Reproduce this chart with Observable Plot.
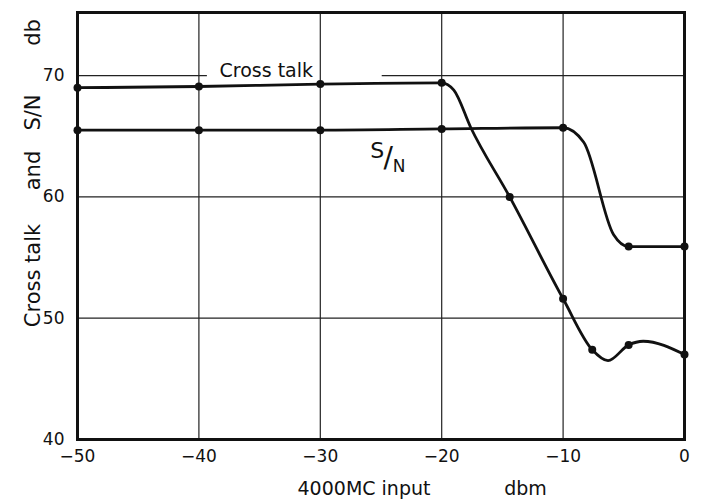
<!DOCTYPE html>
<html>
<head>
<meta charset="utf-8">
<script src="https://cdn.jsdelivr.net/npm/d3@7"></script>
<script src="https://cdn.jsdelivr.net/npm/@observablehq/plot@0.6"></script>
<style>
  html, body { margin: 0; padding: 0; background: #fff; }
  svg { display: block; }
</style>
</head>
<body>
<div id="chart"></div>
<script>
// Cross talk: measured points (dots) and traced curve
const crossDotX = [-50, -40, -30, -20, -14.4, -10, -7.6, -4.6, 0];
const crossDotY = [69.0, 69.1, 69.3, 69.4, 60.0, 51.6, 47.4, 47.8, 47.0];
const crossLineX = [-50, -40, -30, -20, -19.0, -17.6, -14.4, -10, -7.6, -6.3, -4.6, -3.4, 0];
const crossLineY = [69.0, 69.1, 69.3, 69.4, 68.8, 65.7, 60.0, 51.6, 47.4, 46.5, 47.8, 48.1, 47.0];

// S/N: measured points and traced curve
const snDotX = [-50, -40, -30, -20, -10, -4.6, 0];
const snDotY = [65.5, 65.5, 65.5, 65.6, 65.7, 55.9, 55.9];
const snLineX = [-50, -40, -30, -20, -10, -8.3, -5.85, -4.6, 0];
const snLineY = [65.5, 65.5, 65.5, 65.6, 65.7, 64.5, 56.9, 55.9, 55.9];

const xTicks = [-50, -40, -30, -20, -10, 0];
const yTicks = [40, 50, 60, 70];
const xGrid = [-40, -30, -20, -10];
const yGrid = [50, 60];

const zip = (xs, ys) => xs.map((x, i) => ({x, y: ys[i]}));
const crossLine = zip(crossLineX, crossLineY);
const crossDots = zip(crossDotX, crossDotY);
const snLine = zip(snLineX, snLineY);
const snDots = zip(snDotX, snDotY);

const font = "'DejaVu Sans', sans-serif";
const minus = v => v < 0 ? "\u2212" + Math.abs(v) : String(v);

const chart = Plot.plot({
  width: 702,
  height: 504,
  marginLeft: 77,
  marginRight: 18,
  marginTop: 12,
  marginBottom: 65,
  style: {fontFamily: font, fontSize: "15px", color: "#111", background: "#fff"},
  x: {domain: [-50, 0], ticks: xTicks, tickFormat: minus, tickSize: 0, tickPadding: 10, label: null},
  y: {domain: [40, 75.2], ticks: yTicks, tickSize: 0, tickPadding: 13, label: null},
  marks: [
    Plot.ruleX(xGrid, {stroke: "#222", strokeWidth: 1.2}),
    Plot.ruleY(yGrid, {stroke: "#222", strokeWidth: 1.2}),
    Plot.ruleY([70], {x1: -50, x2: -39.3, stroke: "#222", strokeWidth: 1.2}),
    Plot.ruleY([70], {x1: -24.9, x2: 0, stroke: "#222", strokeWidth: 1.2}),
    Plot.line(crossLine, {x: "x", y: "y", curve: "monotone-x", stroke: "#111", strokeWidth: 2.8}),
    Plot.line(snLine, {x: "x", y: "y", curve: "monotone-x", stroke: "#111", strokeWidth: 2.8}),
    Plot.dot(crossDots, {x: "x", y: "y", r: 4, fill: "#111"}),
    Plot.dot(snDots, {x: "x", y: "y", r: 4, fill: "#111"}),
    Plot.frame({stroke: "#111", strokeWidth: 3}),
    Plot.axisX({ticks: xTicks, tickFormat: minus, tickSize: 0, tickPadding: 10, fontSize: 17, label: null}),
    Plot.axisY({ticks: yTicks, tickSize: 0, tickPadding: 13, fontSize: 17, label: null}),
    Plot.text(["Cross talk"], {x: -38.3, y: 70.4, text: d => d, textAnchor: "start", fontSize: 19, fill: "#111"}),
    Plot.text(["S"], {x: -25.3, y: 63.8, text: d => d, fontSize: 22, fill: "#111"}),
    Plot.text(["/"], {x: -24.4, y: 63.2, text: d => d, fontSize: 28, fill: "#111"}),
    Plot.text(["N"], {x: -23.5, y: 62.5, text: d => d, fontSize: 17, fill: "#111"}),
    Plot.text(["4000MC input"], {x: -26.4, frameAnchor: "bottom", dy: 55, text: d => d, fontSize: 19, fill: "#111"}),
    Plot.text(["dbm"], {x: -13.1, frameAnchor: "bottom", dy: 55, text: d => d, fontSize: 19, fill: "#111"}),
    Plot.text(["Cross talk"], {frameAnchor: "top-left", dx: -52, dy: 263, rotate: -90, textAnchor: "middle", text: d => d, fontSize: 21, fill: "#111"}),
    Plot.text(["and"], {frameAnchor: "top-left", dx: -52, dy: 158, rotate: -90, textAnchor: "middle", text: d => d, fontSize: 21, fill: "#111"}),
    Plot.text(["S/N"], {frameAnchor: "top-left", dx: -52, dy: 100, rotate: -90, textAnchor: "middle", text: d => d, fontSize: 21, fill: "#111"}),
    Plot.text(["db"], {frameAnchor: "top-left", dx: -52, dy: 20, rotate: -90, textAnchor: "middle", text: d => d, fontSize: 21, fill: "#111"})
  ]
});
document.getElementById("chart").append(chart);
</script>
</body>
</html>
